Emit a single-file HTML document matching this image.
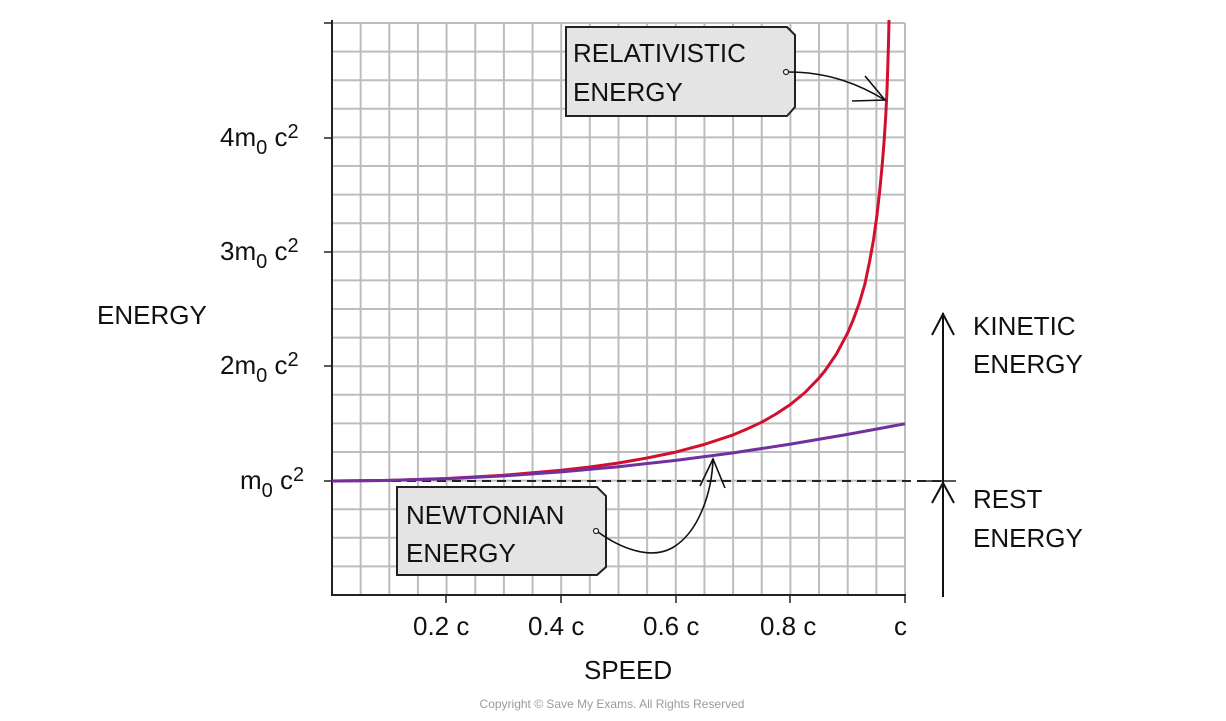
<!DOCTYPE html>
<html><head><meta charset="utf-8"><style>
html,body{margin:0;padding:0;background:#fff;}
svg{display:block;}
text{font-family:"Liberation Sans","DejaVu Sans",sans-serif;fill:#111;}
</style></head><body>
<svg width="1226" height="721" viewBox="0 0 1226 721" xmlns="http://www.w3.org/2000/svg">
<g stroke="#bdbdbd" stroke-width="2">
<line x1="360.65" y1="23" x2="360.65" y2="595"/><line x1="389.3" y1="23" x2="389.3" y2="595"/><line x1="417.95" y1="23" x2="417.95" y2="595"/><line x1="446.6" y1="23" x2="446.6" y2="595"/><line x1="475.25" y1="23" x2="475.25" y2="595"/><line x1="503.9" y1="23" x2="503.9" y2="595"/><line x1="532.55" y1="23" x2="532.55" y2="595"/><line x1="561.2" y1="23" x2="561.2" y2="595"/><line x1="589.85" y1="23" x2="589.85" y2="595"/><line x1="618.5" y1="23" x2="618.5" y2="595"/><line x1="647.15" y1="23" x2="647.15" y2="595"/><line x1="675.8" y1="23" x2="675.8" y2="595"/><line x1="704.45" y1="23" x2="704.45" y2="595"/><line x1="733.1" y1="23" x2="733.1" y2="595"/><line x1="761.75" y1="23" x2="761.75" y2="595"/><line x1="790.4" y1="23" x2="790.4" y2="595"/><line x1="819.05" y1="23" x2="819.05" y2="595"/><line x1="847.7" y1="23" x2="847.7" y2="595"/><line x1="876.35" y1="23" x2="876.35" y2="595"/><line x1="905" y1="23" x2="905" y2="595"/>
<line x1="332" y1="23" x2="905" y2="23"/><line x1="332" y1="51.6" x2="905" y2="51.6"/><line x1="332" y1="80.2" x2="905" y2="80.2"/><line x1="332" y1="108.8" x2="905" y2="108.8"/><line x1="332" y1="137.4" x2="905" y2="137.4"/><line x1="332" y1="166" x2="905" y2="166"/><line x1="332" y1="194.6" x2="905" y2="194.6"/><line x1="332" y1="223.2" x2="905" y2="223.2"/><line x1="332" y1="251.8" x2="905" y2="251.8"/><line x1="332" y1="280.4" x2="905" y2="280.4"/><line x1="332" y1="309" x2="905" y2="309"/><line x1="332" y1="337.6" x2="905" y2="337.6"/><line x1="332" y1="366.2" x2="905" y2="366.2"/><line x1="332" y1="394.8" x2="905" y2="394.8"/><line x1="332" y1="423.4" x2="905" y2="423.4"/><line x1="332" y1="452" x2="905" y2="452"/><line x1="332" y1="480.6" x2="905" y2="480.6"/><line x1="332" y1="509.2" x2="905" y2="509.2"/><line x1="332" y1="537.8" x2="905" y2="537.8"/><line x1="332" y1="566.4" x2="905" y2="566.4"/>
</g>
<line x1="332" y1="20" x2="332" y2="596" stroke="#222" stroke-width="2"/>
<line x1="331" y1="595" x2="906" y2="595" stroke="#222" stroke-width="2"/>
<g stroke="#222" stroke-width="1.5">
<line x1="324" y1="23" x2="332" y2="23"/>
<line x1="324" y1="138" x2="332" y2="138"/>
<line x1="324" y1="252" x2="332" y2="252"/>
<line x1="324" y1="366" x2="332" y2="366"/>
<line x1="324" y1="481" x2="332" y2="481"/>
<line x1="446" y1="595" x2="446" y2="603"/>
<line x1="561" y1="595" x2="561" y2="603"/>
<line x1="676" y1="595" x2="676" y2="603"/>
<line x1="790" y1="595" x2="790" y2="603"/>
<line x1="905" y1="595" x2="905" y2="603"/>
</g>
<g font-size="26">
<text x="220" y="146">4m<tspan font-size="20" dy="8">0</tspan><tspan dy="-8"> c</tspan><tspan font-size="20" dy="-8">2</tspan></text>
<text x="220" y="260">3m<tspan font-size="20" dy="8">0</tspan><tspan dy="-8"> c</tspan><tspan font-size="20" dy="-8">2</tspan></text>
<text x="220" y="374">2m<tspan font-size="20" dy="8">0</tspan><tspan dy="-8"> c</tspan><tspan font-size="20" dy="-8">2</tspan></text>
<text x="240" y="489">m<tspan font-size="20" dy="8">0</tspan><tspan dy="-8"> c</tspan><tspan font-size="20" dy="-8">2</tspan></text>
<text x="97" y="324" font-size="26">ENERGY</text>
<text x="413" y="635">0.2 c</text>
<text x="528" y="635">0.4 c</text>
<text x="643" y="635">0.6 c</text>
<text x="760" y="635">0.8 c</text>
<text x="894" y="635">c</text>
<text x="584" y="679" font-size="26">SPEED</text>
<text x="973" y="335" font-size="26">KINETIC</text>
<text x="973" y="373" font-size="26">ENERGY</text>
<text x="973" y="508" font-size="26">REST</text>
<text x="973" y="547" font-size="26">ENERGY</text>
</g>
<text x="612" y="708" font-size="12" style="fill:#9a9a9a" text-anchor="middle">Copyright © Save My Exams. All Rights Reserved</text>
<line x1="332" y1="481" x2="943" y2="481" stroke="#222" stroke-width="2" stroke-dasharray="9,6"/>
<line x1="920" y1="481" x2="956" y2="481" stroke="#222" stroke-width="1.5"/>
<g stroke="#111" stroke-width="2" fill="none">
<line x1="943" y1="313" x2="943" y2="597"/>
<path d="M932 335 L943 314 L954 335"/>
<path d="M932 503 L943 483 L954 503"/>
</g>
<polyline fill="none" stroke="#d0102e" stroke-width="3" stroke-linejoin="round" points="332,481 389.3,480.4 446.6,478.5 503.9,475.2 561.2,470.3 590,467 618.5,463 647,458 675.8,452.1 704,444.5 733.1,434.9 747,429 761.75,422.2 776,414 790.4,404.5 805,392.5 819,378 824.8,371 836.2,354.4 847.7,332.8 853.4,319.3 859.2,303.4 864.9,284 869.5,262 873.5,240 877,215 879.8,190 882.2,165 884.2,140 885.8,115 887,90 888,60 888.7,35 889,20"/>
<polyline fill="none" stroke="#7030a0" stroke-width="3" stroke-linejoin="round" points="332,481 389.3,480.4 446.6,478.7 503.9,475.9 561.2,471.9 618.5,466.7 675.8,460.4 733.1,452.9 790.4,444.1 847.7,434.4 905,423.8"/>
<path d="M566 27 H787 L795 35 V107 L787 116 H566 Z" fill="#e4e4e4" stroke="#222" stroke-width="2"/>
<text x="573" y="62" font-size="26">RELATIVISTIC</text>
<text x="573" y="101" font-size="26">ENERGY</text>
<circle cx="786" cy="72" r="2.5" fill="#fff" stroke="#222" stroke-width="1.2"/>
<g stroke="#111" stroke-width="1.6" fill="none">
<path d="M788 72 C830 72 860 85 885 100"/>
<path d="M865 76 L885 100 L852 101"/>
</g>
<path d="M397 487 H597 L606 496 V567 L597 575 H397 Z" fill="#e4e4e4" stroke="#222" stroke-width="2"/>
<text x="406" y="524" font-size="26">NEWTONIAN</text>
<text x="406" y="562" font-size="26">ENERGY</text>
<circle cx="596" cy="531" r="2.5" fill="#fff" stroke="#222" stroke-width="1.2"/>
<g stroke="#111" stroke-width="1.6" fill="none">
<path d="M598 532 C620 548 650 560 672 548 C700 532 712 490 713 459"/>
<path d="M700 486 L713 459 L725 488"/>
</g>
</svg>
</body></html>
